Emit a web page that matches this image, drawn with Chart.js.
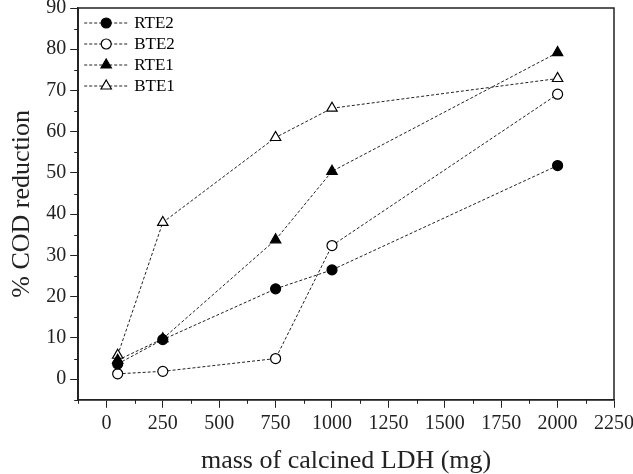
<!DOCTYPE html>
<html>
<head>
<meta charset="utf-8">
<script src="https://cdn.jsdelivr.net/npm/chart.js@4.4.1/dist/chart.umd.min.js"></script>
<style>
  html, body { margin: 0; padding: 0; background: #fff; overflow: hidden; }
  #wrap { width: 633px; height: 474px; overflow: hidden; }
  #codChart { display: block; margin-top: -8px; }
</style>
</head>
<body>
<div id="wrap"><canvas id="codChart" width="638" height="485"></canvas></div>
<script>
// mass of calcined LDH (mg) and % COD reduction per sample
var massMg = [50, 250, 750, 1000, 2000];
var rte2 = [3.7, 9.6, 21.9, 26.5, 51.8];
var bte2 = [1.3, 1.9, 5.0, 32.4, 69.1];
var rte1 = [4.6, 9.8, 33.8, 50.4, 79.2];
var bte1 = [5.8, 38.0, 58.6, 65.7, 72.9];

var seriesNames = ['RTE2', 'BTE2', 'RTE1', 'BTE1'];
var xTicksMajor = 250, xTicksMinor = 125;
var yTicksMajor = 10, yTicksMinor = 5;

var serif = "'Liberation Serif', 'Times New Roman', serif";
var ink = '#222';

function pts(ys) {
    return massMg.map(function(x, i) { return { x: x, y: ys[i] }; });
}

function makeSet(label, ys, style, filled) {
    return {
        label: label,
        data: pts(ys),
        showLine: true,
        borderColor: ink,
        borderWidth: 1,
        borderDash: [3, 2],
        pointStyle: style,
        pointRadius: style === 'triangle' ? 6 : 5,
        pointBorderWidth: 1.2,
        pointBackgroundColor: filled ? '#000' : '#fff',
        pointBorderColor: '#000',
        fill: false
    };
}

var datasets = [
    makeSet(seriesNames[0], rte2, 'circle', true),
    makeSet(seriesNames[1], bte2, 'circle', false),
    makeSet(seriesNames[2], rte1, 'triangle', true),
    makeSet(seriesNames[3], bte1, 'triangle', false)
];

// frame, minor ticks and the in-plot legend
var extras = {
    id: 'extras',
    afterDraw: function(chart) {
        var c = chart.ctx, a = chart.chartArea;
        var xs = chart.scales.x, ys = chart.scales.y;
        c.save();
        c.strokeStyle = ink;
        c.lineWidth = 1.5;
        c.strokeRect(a.left, a.top, a.right - a.left, a.bottom - a.top);

        c.lineWidth = 1;
        c.beginPath();
        xs.ticks.forEach(function(t) {
            if (t.value % xTicksMajor !== 0) {
                var px = Math.round(xs.getPixelForValue(t.value)) + 0.5;
                c.moveTo(px, a.bottom);
                c.lineTo(px, a.bottom + 4);
            }
        });
        ys.ticks.forEach(function(t) {
            if (t.value % yTicksMajor !== 0) {
                var py = Math.round(ys.getPixelForValue(t.value)) + 0.5;
                c.moveTo(a.left, py);
                c.lineTo(a.left - 4, py);
            }
        });
        c.stroke();

        // legend
        var lx = a.left + 6, ly = a.top + 15, rowH = 21;
        chart.data.datasets.forEach(function(ds, i) {
            var y = ly + i * rowH;
            c.setLineDash([3, 2]);
            c.strokeStyle = ink;
            c.lineWidth = 1;
            c.beginPath();
            c.moveTo(lx, y);
            c.lineTo(lx + 44, y);
            c.stroke();
            c.setLineDash([]);
            c.fillStyle = ds.pointBackgroundColor;
            c.strokeStyle = ds.pointBorderColor;
            c.lineWidth = ds.pointBorderWidth;
            Chart.helpers.drawPoint(c, {
                pointStyle: ds.pointStyle,
                radius: ds.pointRadius,
                borderWidth: ds.pointBorderWidth
            }, lx + 22, y);
            c.fillStyle = '#000';
            c.font = '17px ' + serif;
            c.textBaseline = 'middle';
            c.fillText(ds.label, lx + 50, y + 1);
        });
        c.restore();
    }
};

Chart.defaults.font.family = serif;
Chart.defaults.color = ink;

new Chart(document.getElementById('codChart'), {
    type: 'scatter',
    data: { datasets: datasets },
    options: {
        responsive: false,
        animation: false,
        layout: { padding: { top: 0, right: 0, bottom: 0, left: 7 } },
        plugins: { legend: { display: false }, tooltip: { enabled: false } },
        scales: {
            x: {
                type: 'linear',
                min: -125,
                max: 2250,
                border: { color: ink, width: 1.5 },
                grid: {
                    drawOnChartArea: false,
                    tickLength: 8,
                    tickColor: function(ctx) {
                        return ctx.tick && ctx.tick.value % xTicksMajor === 0 ? ink : 'rgba(0,0,0,0)';
                    }
                },
                ticks: {
                    stepSize: xTicksMinor,
                    autoSkip: false,
                    maxRotation: 0,
                    padding: 4,
                    font: { size: 20 },
                    callback: function(v) { return v % xTicksMajor === 0 && v >= 0 ? v : ''; }
                },
                title: {
                    display: true,
                    text: 'mass of calcined LDH (mg)',
                    font: { size: 26 },
                    padding: { top: 6, bottom: 0 }
                }
            },
            y: {
                min: -5,
                max: 90,
                border: { color: ink, width: 1.5 },
                grid: {
                    drawOnChartArea: false,
                    tickLength: 8,
                    tickColor: function(ctx) {
                        return ctx.tick && ctx.tick.value % yTicksMajor === 0 ? ink : 'rgba(0,0,0,0)';
                    }
                },
                ticks: {
                    stepSize: yTicksMinor,
                    autoSkip: false,
                    padding: 4,
                    font: { size: 20 },
                    callback: function(v) { return v % yTicksMajor === 0 ? v : ''; }
                },
                title: {
                    display: true,
                    text: '% COD reduction',
                    font: { size: 26 },
                    padding: { top: 0, bottom: 4 }
                }
            }
        }
    },
    plugins: [extras]
});
</script>
</body>
</html>
